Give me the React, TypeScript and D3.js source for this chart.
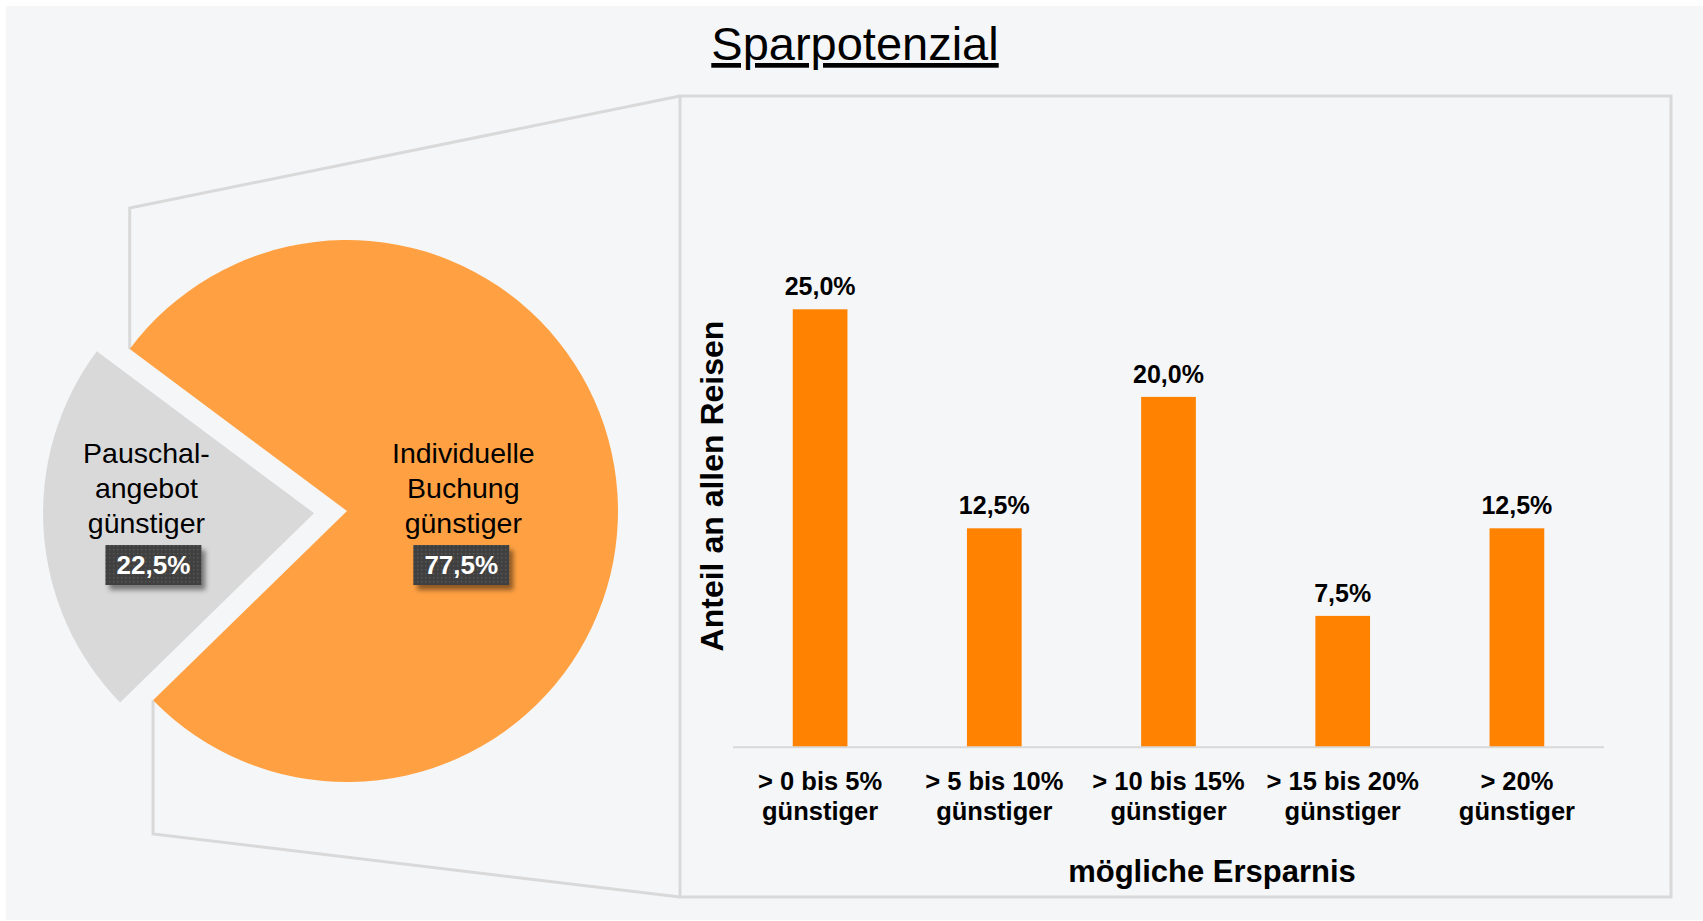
import * as d3 from 'd3';

// pie: share of trips where package vs. individual booking was cheaper
const pieLabels = [['Pauschal-', 'angebot', 'günstiger'], ['Individuelle', 'Buchung', 'günstiger']];
const pieValues = [22.5, 77.5];
const pieValueText = ['22,5%', '77,5%'];

// bar: breakdown of the savings
const barCategories = [
    ['> 0 bis 5%', 'günstiger'],
    ['> 5 bis 10%', 'günstiger'],
    ['> 10 bis 15%', 'günstiger'],
    ['> 15 bis 20%', 'günstiger'],
    ['> 20%', 'günstiger'],
];
const barValues = [25.0, 12.5, 20.0, 7.5, 12.5];
const barValueText = ['25,0%', '12,5%', '20,0%', '7,5%', '12,5%'];

const W = 1703;
const H = 921;
const FONT = "Arial, 'Liberation Sans', sans-serif";
const LINE = '#d9d9d9';

const App = () => {
    // pie geometry
    const cx = 347;
    const cy = 511;
    const r = 271;
    const explode = 33;
    const deg = Math.PI / 180;
    const pie = d3.pie<number>().sort(null).startAngle(225.7 * deg).endAngle(225.7 * deg + 2 * Math.PI);
    const slices = pie(pieValues);
    const arc = d3.arc<d3.PieArcDatum<number>>().innerRadius(0).outerRadius(r);

    // the orange slice edges where the connector lines start
    const orange = slices[1];
    const edge = (a: number) => [cx + r * Math.sin(a), cy - r * Math.cos(a)];
    const topEdge = edge(orange.startAngle);
    const botEdge = edge(orange.endAngle);

    // bar chart scales
    const x = d3.scaleBand<number>()
        .domain(barValues.map((_, i) => i))
        .range([733, 1604])
        .paddingInner(0.686)
        .paddingOuter(0.343);
    const y = d3.scaleLinear().domain([0, 30]).range([747.3, 221.7]);

    const frame = { x: 680, y: 96, w: 991, h: 801 };

    return (
        <svg width={W} height={H} style={{ position: 'absolute', left: 0, top: 0 }} fontFamily={FONT}>
            <defs>
                <pattern id="dots" width="4" height="4" patternUnits="userSpaceOnUse">
                    <rect width="4" height="4" fill="#404040" />
                    <rect x="1" y="1" width="1.4" height="1.4" fill="#585858" />
                </pattern>
                <filter id="shadow" x="-20%" y="-30%" width="150%" height="180%">
                    <feDropShadow dx="4" dy="5" stdDeviation="2.5" floodColor="#000" floodOpacity="0.45" />
                </filter>
            </defs>
            <rect width={W} height={H} fill="#fff" />
            <rect x={6} y={6} width={W - 6} height={H - 7} fill="#f5f6f8" />

            {/* title */}
            <text x={855} y={60} fontSize={47} textAnchor="middle" textDecoration="underline" fill="#000">
                Sparpotenzial
            </text>

            {/* connector lines, behind the pie */}
            <polyline
                points={`${topEdge[0]},${topEdge[1]} ${topEdge[0]},208 ${frame.x},${frame.y}`}
                fill="none" stroke={LINE} strokeWidth={3} />
            <polyline
                points={`${botEdge[0]},${botEdge[1]} ${botEdge[0]},834 ${frame.x},${frame.y + frame.h}`}
                fill="none" stroke={LINE} strokeWidth={3} />
            <rect x={frame.x} y={frame.y} width={frame.w} height={frame.h} fill="none" stroke={LINE} strokeWidth={3} />

            {/* pie */}
            {slices.map((s, i) => {
                const mid = (s.startAngle + s.endAngle) / 2;
                const off = i === 0 ? explode : 0;
                const dx = off * Math.sin(mid);
                const dy = -off * Math.cos(mid);
                const c = d3.arc<d3.PieArcDatum<number>>().innerRadius(0).outerRadius(i === 0 ? r * 1.24 : r * 0.86).centroid(s);
                const lx = cx + dx + c[0];
                const ly = cy;
                const bx = lx + (i === 0 ? 7 : -2);
                return (
                    <g key={i}>
                        <path d={arc(s) || ''} transform={`translate(${cx + dx},${cy + dy})`} fill={i === 0 ? '#d9d9d9' : '#ffa142'} />
                        {pieLabels[i].map((t, j) => (
                            <text key={j} x={lx} y={ly - 48 + j * 35} fontSize={28.5} textAnchor="middle" fill="#000">{t}</text>
                        ))}
                        <g filter="url(#shadow)">
                            <rect x={bx - 48} y={ly + 34} width={96} height={40} fill="url(#dots)" />
                        </g>
                        <text x={bx} y={ly + 63} fontSize={26} fontWeight="bold" textAnchor="middle" fill="#fff">
                            {pieValueText[i]}
                        </text>
                    </g>
                );
            })}

            {/* bars */}
            {barValues.map((v, i) => (
                <g key={i}>
                    <rect x={x(i)} y={y(v)} width={x.bandwidth()} height={y(0) - y(v)} fill="#ff8200" />
                    <text x={(x(i) || 0) + x.bandwidth() / 2} y={y(v) - 14} fontSize={25} fontWeight="bold" textAnchor="middle">
                        {barValueText[i]}
                    </text>
                    {barCategories[i].map((t, j) => (
                        <text key={j} x={(x(i) || 0) + x.bandwidth() / 2} y={y(0) + 43 + j * 30} fontSize={25.5} fontWeight="bold" textAnchor="middle">
                            {t}
                        </text>
                    ))}
                </g>
            ))}
            <line x1={x.range()[0]} x2={x.range()[1]} y1={y(0)} y2={y(0)} stroke={LINE} strokeWidth={2} />

            {/* axis titles */}
            <text transform="translate(723,486) rotate(-90)" fontSize={32} fontWeight="bold" textAnchor="middle">
                Anteil an allen Reisen
            </text>
            <text x={1212} y={882} fontSize={31} fontWeight="bold" textAnchor="middle">
                mögliche Ersparnis
            </text>
        </svg>
    );
};

export default App;
